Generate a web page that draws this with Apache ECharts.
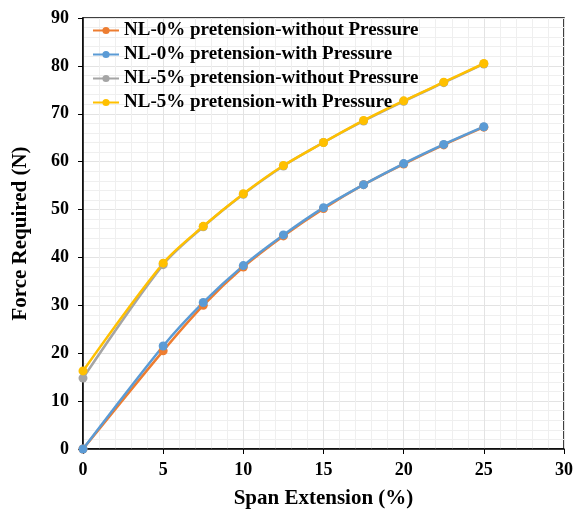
<!DOCTYPE html>
<html>
<head>
<meta charset="utf-8">
<script src="https://cdn.jsdelivr.net/npm/echarts@6/dist/echarts.min.js"></script>
<style>
  html, body { margin: 0; padding: 0; background: #fff; }
  #main { width: 574px; height: 509px; }
</style>
</head>
<body>
<div id="main"></div>
<script>
var extension = [0, 5, 7.5, 10, 12.5, 15, 17.5, 20, 22.5, 25];
var nl0Without = [0, 20.5, 30.0, 38.0, 44.5, 50.2, 55.2, 59.5, 63.5, 67.2];
var nl0With = [0, 21.5, 30.6, 38.3, 44.7, 50.4, 55.2, 59.6, 63.6, 67.3];
var nl5Without = [14.8, 38.5, 46.4, 53.2, 59.1, 64.0, 68.5, 72.6, 76.5, 80.4];
var nl5With = [16.3, 38.8, 46.5, 53.3, 59.2, 64.0, 68.6, 72.7, 76.6, 80.5];
var seriesNames = [
  "NL-0% pretension-without Pressure",
  "NL-0% pretension-with Pressure",
  "NL-5% pretension-without Pressure",
  "NL-5% pretension-with Pressure"
];
var colors = ["#ED7D31", "#5B9BD5", "#A5A5A5", "#FFC000"];

function pairs(ys) {
  return extension.map(function (x, i) { return [x, ys[i]]; });
}

var font = "Liberation Serif";
var chart = echarts.init(document.getElementById("main"));
var allData = [nl0Without, nl0With, nl5Without, nl5With];

chart.setOption({
  animation: false,
  backgroundColor: "#fff",
  grid: {
    left: 83, right: 10, top: 18, bottom: 60,
    outerBoundsMode: "none", containLabel: false,
    show: true, borderColor: "#000", borderWidth: 1.5
  },
  legend: {
    orient: "vertical",
    left: 92,
    top: 21,
    padding: 0,
    itemGap: 5,
    itemWidth: 26,
    itemHeight: 9,
    textStyle: { fontFamily: font, fontWeight: "bold", fontSize: 19, color: "#000" },
    data: seriesNames
  },
  xAxis: {
    type: "value",
    min: 0, max: 30, interval: 5,
    name: "Span Extension (%)",
    nameLocation: "middle",
    nameGap: 39,
    nameTextStyle: { fontFamily: font, fontWeight: "bold", fontSize: 21, color: "#000" },
    axisLine: { lineStyle: { color: "#000", width: 1.5 } },
    axisTick: { show: true, length: 5, lineStyle: { color: "#000" } },
    axisLabel: { fontFamily: font, fontWeight: "bold", fontSize: 18, color: "#000", margin: 12 },
    splitLine: { show: true, lineStyle: { color: "#e3e3e3" } },
    minorTick: { show: false, splitNumber: 5 },
    minorSplitLine: { show: true, lineStyle: { color: "#efefef" } }
  },
  yAxis: {
    type: "value",
    min: 0, max: 90, interval: 10,
    name: "Force Required (N)",
    nameLocation: "middle",
    nameGap: 52,
    nameTextStyle: { fontFamily: font, fontWeight: "bold", fontSize: 21, color: "#000" },
    axisLine: { show: true, lineStyle: { color: "#000", width: 1.5 } },
    axisTick: { show: true, length: 5, lineStyle: { color: "#000" } },
    axisLabel: { fontFamily: font, fontWeight: "bold", fontSize: 18, color: "#000", margin: 14 },
    splitLine: { show: true, lineStyle: { color: "#e3e3e3" } },
    minorTick: { show: false, splitNumber: 5 },
    minorSplitLine: { show: true, lineStyle: { color: "#efefef" } }
  },
  series: seriesNames.map(function (name, i) {
    return {
      name: name,
      type: "line",
      smooth: 0.3,
      data: pairs(allData[i]),
      symbol: "circle",
      symbolSize: 9,
      color: colors[i],
      lineStyle: { width: 2.5, color: colors[i] },
      itemStyle: { color: colors[i] }
    };
  })
});
</script>
</body>
</html>
